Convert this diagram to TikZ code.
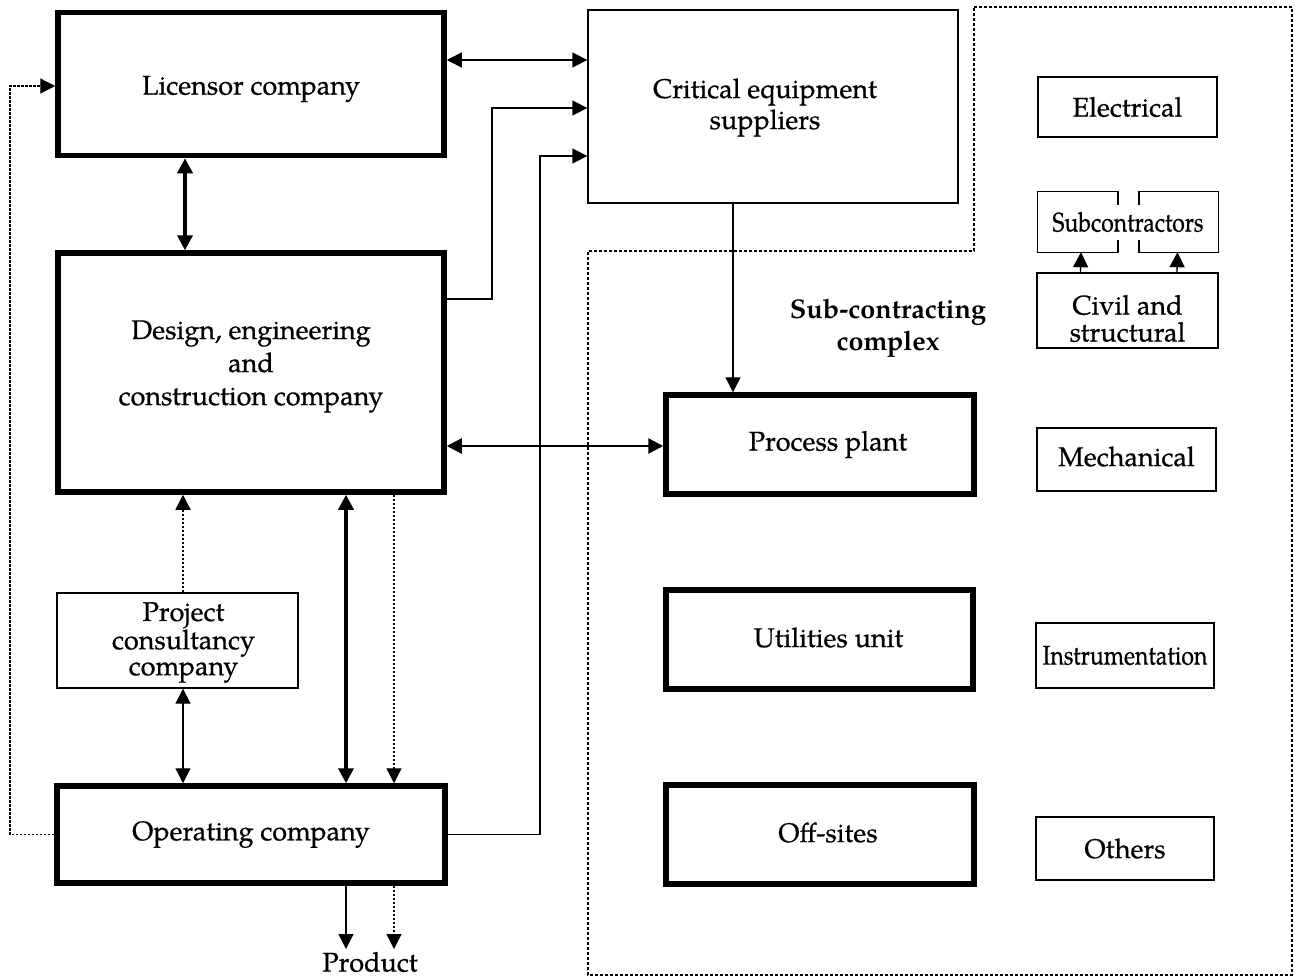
\documentclass[tikz,border=0pt]{standalone}
\usepackage{fontspec}
\setmainfont{texgyrepagella}[Extension=.otf, UprightFont=*-regular, BoldFont=*-bold, ItalicFont=*-italic, BoldItalicFont=*-bolditalic, UprightFeatures={FakeBold=0.6}]
\usepackage{graphicx}
\usetikzlibrary{arrows.meta,calc}

\begin{document}
\begin{tikzpicture}[x=1pt,y=-1pt,
  >={Triangle[length=15pt,width=15pt]},
  every node/.style={font=\fontsize{27}{33}\selectfont, inner sep=0pt, align=center},
  heavy/.style={draw, line width=5.5pt},
  light/.style={draw, line width=1.3pt},
  link/.style={line width=1.3pt},
  midlink/.style={line width=2.4pt},
  boldlink/.style={line width=3.6pt},
  dotlink/.style={line width=1.3pt, dash pattern=on 2.5pt off 1.5pt},
  region/.style={line width=1.3pt, dash pattern=on 3pt off 2pt}]
\useasboundingbox (0,0) rectangle (1295,979);

% sub-contracting complex outline
\draw[region] (974,7) -- (1292,7) -- (1292,975) -- (588,975) -- (588,251) -- (974,251) -- cycle;

% main companies
\node[heavy, minimum width=386pt, minimum height=143pt] (lic) at (251,84) {};
\node (licT) at ($(lic)+(0,5)$) {Licensor company};
\node[light, minimum width=370pt, minimum height=193pt] (crit) at (773,106.5) {};
\node[font=\fontsize{27}{31}\selectfont] (critT) at ($(crit)+(-8,1)$) {Critical equipment\\suppliers};
\node[heavy, minimum width=386pt, minimum height=239pt] (des) at (251,372.5) {};
\node (desT) at ($(des)+(0,-6)$) {Design, engineering\\and\\construction company};
\node[light, minimum width=241pt, minimum height=95pt] (pcc) at (177.5,640.5) {};
\node[font=\fontsize{27}{26}\selectfont] (pccT) at ($(pcc)+(6,2)$) {Project\\consultancy\\company};
\node[heavy, minimum width=388pt, minimum height=97pt] (op) at (251,834.5) {};
\node (opT) at ($(op)+(0,0)$) {Operating company};

% plant units
\node[heavy, minimum width=308pt, minimum height=99pt] (pp) at (820,444.5) {};
\node (ppT) at ($(pp)+(8,0)$) {Process plant};
\node[heavy, minimum width=307pt, minimum height=99pt] (util) at (819.5,639.5) {};
\node (utilT) at ($(util)+(9,-2)$) {Utilities unit};
\node[heavy, minimum width=308pt, minimum height=99pt] (off) at (820,834.5) {};
\node (offT) at ($(off)+(8,-2)$) {Off-sites};

% trades
\node[light, minimum width=179pt, minimum height=60pt] (elec) at (1127.5,107) {Electrical};
\node[minimum width=180pt, minimum height=60pt] (sub) at (1128,222) {\scalebox{0.85}[1]{Subcontractors}};
\node[light, minimum width=181pt, minimum height=75pt] (civ) at (1127.5,310.5) {};
\node[font=\fontsize{27}{27}\selectfont] (civT) at ($(civ)+(0,8)$) {Civil and\\structural};
\node[light, minimum width=179pt, minimum height=63pt] (mech) at (1126.5,459.5) {};
\node (mechT) at ($(mech)+(0,-3)$) {Mechanical};
\node[light, minimum width=178pt, minimum height=65pt] (inst) at (1125,655.5) {\scalebox{0.85}[1]{Instrumentation}};
\node[light, minimum width=178pt, minimum height=63pt] (oth) at (1125,848.5) {Others};

\node[font=\bfseries\fontsize{27}{32}\selectfont] (scc) at (888,328) {Sub-contracting\\complex};
\node (prod) at (370,962) {Product};

% split outline of the subcontractors box
\draw[link] ($(sub.north)+(-10,13)$) -- ($(sub.north)+(-10,0)$) -- (sub.north west) -- (sub.south west) -- ($(sub.south)+(-10,0)$) -- ++(0,-12);
\draw[link] ($(sub.north)+(11,13)$) -- ($(sub.north)+(11,0)$) -- (sub.north east) -- (sub.south east) -- ($(sub.south)+(11,0)$) -- ++(0,-12);
\draw[link,->] ($(civ.north)+(-47,0)$) -- ($(sub.south)+(-47,0)$);
\draw[link,->] ($(civ.north)+(49.5,0)$) -- ($(sub.south)+(49.5,0)$);

% routing rows and columns
\coordinate (h1) at (0,60);
\coordinate (h2) at (0,108);
\coordinate (h3) at (0,156);
\coordinate (h4) at (0,299);
\coordinate (h5) at (0,446);
\coordinate (h6) at (0,86);
\coordinate (v1) at (492,0);
\coordinate (v2) at (540,0);
\coordinate (v3) at (185,0);
\coordinate (v4) at (733,0);
\coordinate (v5) at (183,0);
\coordinate (v6) at (346,0);
\coordinate (v7) at (394,0);
\coordinate (v8) at (10,0);
\coordinate (pout) at (0,949);

% connectors
\draw[link,<->] (lic.east |- h1) -- (crit.west |- h1);
\draw[link,->] (des.east |- h4) -| (v1 |- h2) -- (crit.west |- h2);
\draw[link,->] (op.east) -| (v2 |- h3) -- (crit.west |- h3);
\draw[boldlink,<->] (lic.south -| v3) -- (des.north -| v3);
\draw[midlink,<->] (des.east |- h5) -- (pp.west |- h5);
\draw[link,->] (crit.south -| v4) -- (pp.north -| v4);
\draw[dotlink,->] (pcc.north -| v5) -- (des.south -| v5);
\draw[link,<->] (pcc.south -| v5) -- (op.north -| v5);
\draw[boldlink,<->] (des.south -| v6) -- (op.north -| v6);
\draw[dotlink,->] (des.south -| v7) -- (op.north -| v7);
\draw[link,->] (op.south -| v6) -- (v6 |- pout);
\draw[dotlink,->] (op.south -| v7) -- (v7 |- pout);
\draw[dotlink,->] (op.west) -| (v8 |- h6) -- (lic.west |- h6);
\end{tikzpicture}
\end{document}
